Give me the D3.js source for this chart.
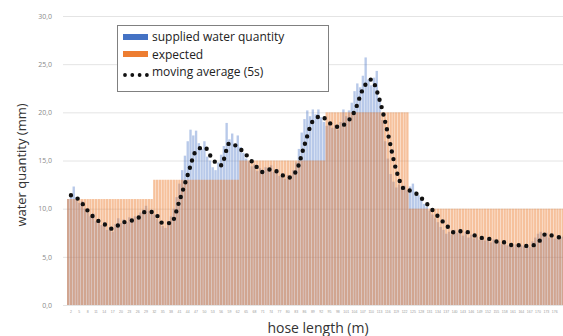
<!DOCTYPE html>
<html><head><meta charset="utf-8">
<script src="https://cdn.jsdelivr.net/npm/d3@7"></script>
<style>body{margin:0;background:#fff;} svg{display:block;font-family:"Open Sans",sans-serif;}</style>
</head><body><svg id="c" width="563" height="336"></svg>
<script>
const categories = d3.range(1, 181).map(String);
const supplied = [
 11.0,11.5,12.3,11.2,10.6,10.8,10.0,9.6,9.2,9.5,
 8.7,8.9,8.3,8.6,7.8,8.1,7.6,8.4,9.0,8.5,
 8.9,8.6,9.1,8.7,9.2,9.0,9.6,9.9,10.3,9.8,
 9.9,9.4,8.9,8.6,8.2,8.0,8.7,9.2,10.0,11.2,
 12.6,14.0,15.5,17.0,18.2,17.6,18.1,16.8,16.2,17.0,
 15.4,15.0,14.3,14.0,14.8,15.6,16.5,18.9,17.2,17.8,
 16.6,17.6,16.4,15.8,15.2,14.9,14.4,14.6,13.9,14.2,
 13.6,14.3,14.0,14.5,13.8,14.1,13.4,13.7,13.1,13.5,
 13.0,14.0,14.8,16.2,17.9,19.3,20.2,19.6,20.3,19.8,
 20.3,19.5,19.0,18.6,19.0,18.4,18.7,18.2,19.0,20.3,
 19.6,20.2,21.0,22.2,23.0,22.6,23.8,25.7,23.4,22.8,
 23.6,24.3,21.5,19.2,17.0,15.2,13.6,12.8,12.2,12.5,
 12.0,12.4,11.9,12.3,12.6,11.8,11.4,10.9,10.5,10.2,
 9.8,9.4,9.0,8.6,8.1,7.8,7.4,7.6,7.3,7.8,
 7.5,7.9,7.2,7.6,7.0,7.3,6.9,7.1,6.8,7.0,
 6.7,6.9,6.5,6.8,6.4,6.6,6.3,6.5,6.2,6.4,
 6.1,6.3,6.0,6.2,6.1,6.3,6.0,6.6,7.0,7.4,
 7.6,7.2,7.5,7.0,7.3,6.9,7.2,7.0,7.1,6.8
];
const expected = [
 11,11,11,11,11,11,11,11,11,11,11,11,11,11,11,11,11,11,11,11,11,11,11,11,11,11,11,11,11,11,11,
 13,13,13,13,13,13,13,13,13,13,13,13,13,13,13,13,13,13,13,13,13,13,13,13,13,13,13,13,13,13,13,
 15,15,15,15,15,15,15,15,15,15,15,15,15,15,15,15,15,15,15,15,15,15,15,15,15,15,15,15,15,15,15,
 20,20,20,20,20,20,20,20,20,20,20,20,20,20,20,20,20,20,20,20,20,20,20,20,20,20,20,20,20,20,
 10,10,10,10,10,10,10,10,10,10,10,10,10,10,10,10,10,10,10,10,10,10,10,10,10,10,10,10,10,10,
 10,10,10,10,10,10,10,10,10,10,10,10,10,10,10,10,10,10,10,10,10,10,10,10,10,10,10
];
const movingAverage = [
 11.4,10.9,9.8,8.9,8.4,7.9,8.5,8.7,9.0,9.7,
 9.6,8.5,8.5,10.8,13.5,16.0,16.4,15.1,14.5,16.8,
 16.4,15.6,14.6,13.8,14.1,13.7,13.2,13.9,16.6,19.1,
 19.6,18.9,18.5,18.9,20.1,22.4,23.4,21.3,17.8,14.0,
 12.0,11.8,11.1,10.2,9.2,8.3,7.5,7.7,7.4,7.0,
 6.9,6.6,6.5,6.2,6.2,6.1,6.5,7.4,7.1,7.0
];
const yTicks = [0, 5, 10, 15, 20, 25, 30];
const seriesNames = ["supplied water quantity", "expected", "moving average (5s)"];
const colors = {blue: "#4472C4", orange: "#ED7D31"};

const svg = d3.select("#c");
const x = d3.scaleBand().domain(categories).range([67, 567]).paddingInner(0.15).paddingOuter(0);
const y = d3.scaleLinear().domain([0, 30]).range([305, 16]);
const fmt = d => d3.format(".1f")(d).replace(".", ",");

// y axis with gridlines
const ya = svg.append("g").attr("transform", "translate(63,0)")
  .call(d3.axisLeft(y).tickValues(yTicks).tickFormat(fmt).tickSize(-500).tickPadding(11));
ya.select(".domain").remove();
ya.selectAll(".tick line").attr("stroke", "#e4e4e4");
ya.selectAll(".tick text").attr("fill", "#8a8a8a").style("font-size", "7px").style("font-family", "Open Sans");

// bars
svg.append("g").selectAll("rect").data(supplied).join("rect")
  .attr("x", (d, i) => x(categories[i])).attr("width", x.bandwidth())
  .attr("y", d => y(d)).attr("height", d => y(0) - y(d))
  .attr("fill", colors.blue).attr("fill-opacity", 0.38);
svg.append("g").selectAll("rect").data(expected).join("rect")
  .attr("x", (d, i) => x(categories[i])).attr("width", x.bandwidth())
  .attr("y", d => y(d)).attr("height", d => y(0) - y(d))
  .attr("fill", colors.orange).attr("fill-opacity", 0.48);

// x axis
const xa = svg.append("g").attr("transform", "translate(0,305)")
  .call(d3.axisBottom(x).tickValues(categories.filter((d, i) => i % 3 === 1 && i < 176)).tickSize(0).tickPadding(6));
xa.select(".domain").remove();
xa.selectAll(".tick text").attr("fill", "#9a9a9a").style("font-size", "3.5px");

// moving average
const maLine = d3.line()
  .x((d, k) => x(categories[3 * k + 1]) + x.bandwidth() / 2)
  .y(d => y(d))
  .curve(d3.curveMonotoneX);
svg.append("path").datum(movingAverage).attr("d", maLine)
  .attr("fill", "none").attr("stroke", "#111").attr("stroke-width", 4.4)
  .attr("stroke-linecap", "round").attr("stroke-dasharray", "0 7.6");

// legend
const lg = svg.append("g");
lg.append("rect").attr("x", 117.5).attr("y", 25.5).attr("width", 211).attr("height", 66)
  .attr("fill", "#fff").attr("stroke", "#808080").attr("stroke-width", 1);
lg.append("rect").attr("x", 123).attr("y", 34).attr("width", 25).attr("height", 6).attr("fill", colors.blue);
lg.append("rect").attr("x", 123).attr("y", 51).attr("width", 25).attr("height", 6).attr("fill", colors.orange);
lg.append("line").attr("x1", 125).attr("x2", 147).attr("y1", 75).attr("y2", 75)
  .attr("stroke", "#111").attr("stroke-width", 3.8).attr("stroke-linecap", "round").attr("stroke-dasharray", "0 7.3");
lg.selectAll("text").data(seriesNames).join("text")
  .attr("x", 152).attr("y", (d, i) => 41 + i * 17.5)
  .attr("fill", "#222").style("font-size", "12px").text(d => d);

// axis titles
svg.append("text").attr("transform", "translate(26,165) rotate(-90)").attr("text-anchor", "middle")
  .attr("fill", "#333").style("font-size", "13px").text("water quantity (mm)");
svg.append("text").attr("x", 318).attr("y", 333).attr("text-anchor", "middle")
  .attr("fill", "#333").style("font-size", "14px").text("hose length (m)");
</script></body></html>
